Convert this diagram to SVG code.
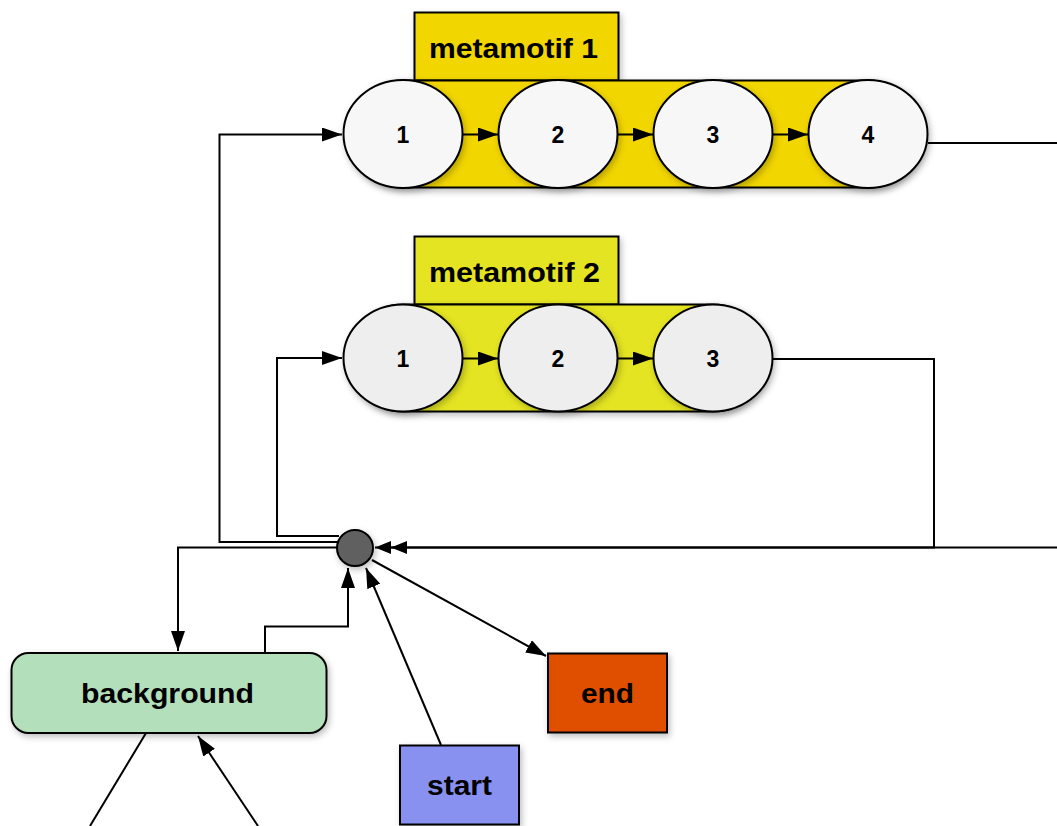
<svg xmlns="http://www.w3.org/2000/svg" width="1057" height="826" viewBox="0 0 1057 826">
<style>
.lbl{font-family:"Liberation Sans",Arial,sans-serif;font-weight:bold;font-size:28px;fill:#000;text-anchor:middle}
.num{font-family:"Liberation Sans",Arial,sans-serif;font-weight:bold;font-size:23px;fill:#000;text-anchor:middle}
.sh{stroke:#000;stroke-width:2;filter:url(#ds)}
.edge{fill:none;stroke:#000;stroke-width:2}
.arr{marker-end:url(#ah)}
</style>
<defs>
<filter id="ds" x="-20%" y="-20%" width="140%" height="150%">
<feDropShadow dx="2" dy="3" stdDeviation="3" flood-color="#000" flood-opacity="0.25"/>
</filter>
<marker id="ah" markerUnits="userSpaceOnUse" markerWidth="21" markerHeight="15" refX="20" refY="7" orient="auto">
<path d="M0,0 L20,7 L0,14 Z" fill="#000"/>
</marker>
<marker id="ahs" markerUnits="userSpaceOnUse" markerWidth="17" markerHeight="15" refX="16" refY="7" orient="auto">
<path d="M0,0.5 L16,7 L0,13.5 Z" fill="#000"/>
</marker>
</defs>

<g id="connectors">
<path class="edge" d="M928,143 H1057"/>
<path class="edge" d="M1057,547.5 H375" marker-end="url(#ahs)"/>
<path class="edge" d="M773,359 H934 V547.5 H391" marker-end="url(#ahs)"/>
<path class="edge arr" d="M337,547.5 H178 V651"/>
<path class="edge arr" d="M340,542 H219.5 V134.5 H342"/>
<path class="edge arr" d="M339,536 H277 V358 H342"/>
<path class="edge arr" d="M265,653 V626.5 H348 V568"/>
<path class="edge arr" d="M441,745 L366,568"/>
<path class="edge arr" d="M372,560 L546,656"/>
<path class="edge" d="M146,733 L90,826"/>
<path class="edge arr" d="M258,826 L198,736"/>
</g>

<g id="metamotif1">
<rect class="sh" x="414.5" y="12.5" width="204" height="68" fill="#f2d600"/>
<path class="sh" d="M403,80.5 H868.5 A53.5,53.5 0 0 1 868.5,187.5 H403 A53.5,53.5 0 0 1 403,80.5 Z" fill="#f2d600"/>
<text class="lbl" x="513.5" y="58" textLength="169" lengthAdjust="spacingAndGlyphs">metamotif 1</text>
</g>
<g id="mm1-n1"><ellipse class="sh" cx="403" cy="134" rx="59.5" ry="54" fill="#f7f7f7"/><text class="num" x="403" y="142.5">1</text></g>
<g id="mm1-n2"><ellipse class="sh" cx="558" cy="134" rx="59.5" ry="54" fill="#f7f7f7"/><text class="num" x="558" y="142.5">2</text></g>
<g id="mm1-n3"><ellipse class="sh" cx="713" cy="134" rx="59.5" ry="54" fill="#f7f7f7"/><text class="num" x="713" y="142.5">3</text></g>
<g id="mm1-n4"><ellipse class="sh" cx="868" cy="134" rx="59.5" ry="54" fill="#f7f7f7"/><text class="num" x="868" y="142.5">4</text></g>
<g id="mm1-links">
<path class="edge arr" d="M462.5,134.5 H498"/>
<path class="edge arr" d="M617.5,134.5 H653"/>
<path class="edge arr" d="M772.5,134.5 H808"/>
</g>

<g id="metamotif2">
<rect class="sh" x="414.5" y="236.5" width="204" height="68" fill="#e4e424"/>
<path class="sh" d="M403,304.5 H713 A53.5,53.5 0 0 1 713,411.5 H403 A53.5,53.5 0 0 1 403,304.5 Z" fill="#e4e424"/>
<text class="lbl" x="514.5" y="282" textLength="171" lengthAdjust="spacingAndGlyphs">metamotif 2</text>
</g>
<g id="mm2-n1"><ellipse class="sh" cx="403" cy="358" rx="59.5" ry="53.5" fill="#eeeeee"/><text class="num" x="403" y="366.5">1</text></g>
<g id="mm2-n2"><ellipse class="sh" cx="558" cy="358" rx="59.5" ry="53.5" fill="#eeeeee"/><text class="num" x="558" y="366.5">2</text></g>
<g id="mm2-n3"><ellipse class="sh" cx="713" cy="358" rx="59.5" ry="53.5" fill="#eeeeee"/><text class="num" x="713" y="366.5">3</text></g>
<g id="mm2-links">
<path class="edge arr" d="M462.5,358.5 H498"/>
<path class="edge arr" d="M617.5,358.5 H653"/>
</g>

<g id="hub"><circle class="sh" cx="355" cy="548" r="18" fill="#606060"/></g>

<g id="background"><rect class="sh" x="11.5" y="653" width="315" height="80" rx="17" fill="#b3dfba"/><text class="lbl" x="167.5" y="703" textLength="173" lengthAdjust="spacingAndGlyphs">background</text></g>
<g id="end"><rect class="sh" x="548" y="653.5" width="119" height="79" fill="#e05000"/><text class="lbl" x="607.5" y="703" textLength="53" lengthAdjust="spacingAndGlyphs">end</text></g>
<g id="start"><rect class="sh" x="400" y="745.5" width="119" height="79" fill="#8890f0"/><text class="lbl" x="459.5" y="795" textLength="65" lengthAdjust="spacingAndGlyphs">start</text></g>
</svg>
